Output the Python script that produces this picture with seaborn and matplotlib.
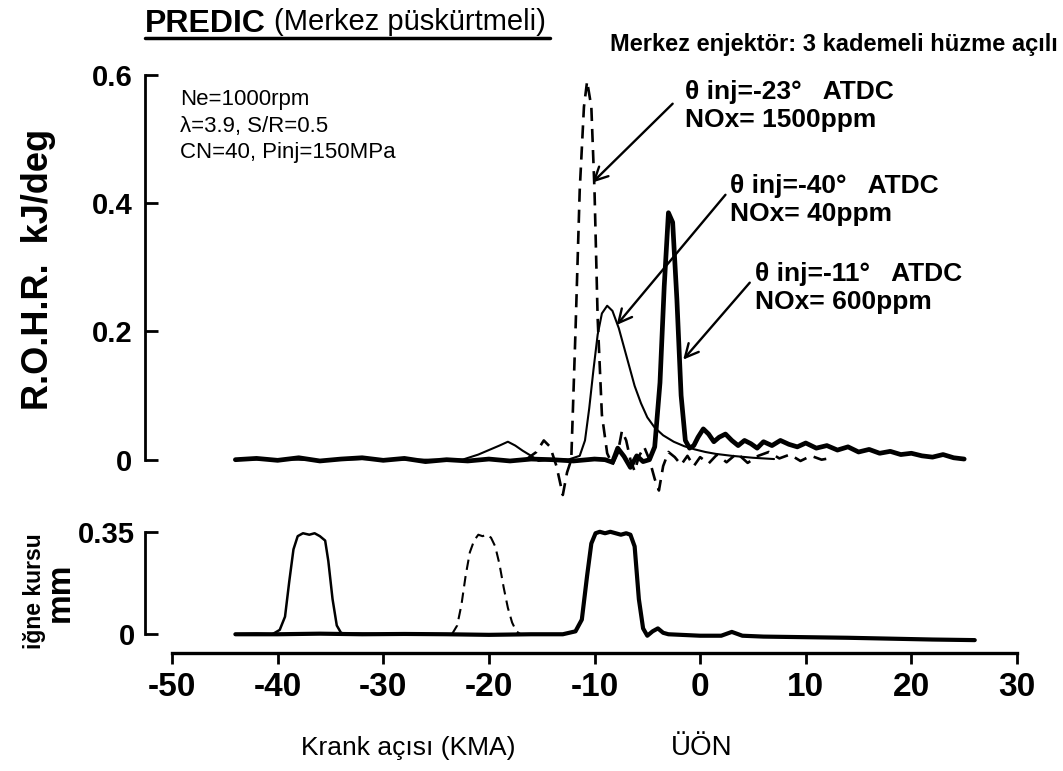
import matplotlib
matplotlib.use("Agg")
import matplotlib.pyplot as plt
from matplotlib.lines import Line2D
import seaborn as sns
import pandas as pd

# ---------------- data ----------------
# Rate of heat release, kJ/deg, vs crank angle (deg ATDC)
late_x = [-44, -42, -40, -38, -36, -34, -32, -30, -28, -26, -24, -22, -20, -18, -16, -14, -12, -10, -9,
          -8.3, -7.8, -7.2, -6.6, -6.0, -5.4, -4.8, -4.3, -3.8, -3.4, -3.0, -2.6, -2.2, -1.8, -1.4, -1.0,
          -0.6, -0.2, 0.3, 0.8, 1.3, 1.8, 2.4, 3.0, 3.6, 4.2, 4.8, 5.4, 6.0, 6.8, 7.6, 8.4, 9.2, 10, 11,
          12, 13, 14, 15, 16, 17, 18, 19, 20, 21, 22, 23, 24, 25]
late_y = [0.000, 0.002, -0.001, 0.003, -0.002, 0.001, 0.003, -0.001, 0.002, -0.003, 0.000, -0.002, 0.001,
          -0.002, 0.001, 0.000, -0.002, 0.001, 0.000, -0.004, 0.018, 0.005, -0.012, 0.006, -0.003, 0.000,
          0.020, 0.120, 0.270, 0.385, 0.370, 0.250, 0.100, 0.030, 0.018, 0.022, 0.035, 0.048, 0.040, 0.028,
          0.035, 0.040, 0.030, 0.022, 0.030, 0.025, 0.018, 0.028, 0.022, 0.030, 0.024, 0.020, 0.026, 0.018,
          0.022, 0.015, 0.020, 0.012, 0.016, 0.010, 0.013, 0.008, 0.010, 0.006, 0.004, 0.008, 0.003, 0.001]

early_x = [-44, -40, -36, -32, -28, -24, -22.5, -21, -20, -19, -18.2, -17.5, -16.8, -16, -15.3, -14.5,
           -13.5, -12.5, -11.4, -10.9, -10.5, -10.1, -9.7, -9.3, -8.8, -8.3, -7.7, -7.2, -6.7, -6.2, -5.6,
           -5.0, -4.3, -3.5, -2.5, -1.5, -0.5, 0.5, 1.5, 3, 5, 7]
early_y = [0.000, 0.001, -0.001, 0.001, 0.000, 0.000, 0.000, 0.008, 0.015, 0.022, 0.028, 0.022, 0.014,
           0.006, -0.002, 0.000, 0.001, 0.000, 0.006, 0.030, 0.080, 0.140, 0.195, 0.228, 0.240, 0.232,
           0.205, 0.175, 0.145, 0.115, 0.088, 0.066, 0.050, 0.038, 0.028, 0.021, 0.016, 0.012, 0.009,
           0.006, 0.003, 0.001]

mid_x = [-16.5, -15.5, -14.8, -14.2, -13.6, -13.0, -12.6, -12.2, -11.8, -11.4, -11.0, -10.7, -10.3, -10.0,
         -9.7, -9.3, -8.8, -8.3, -7.8, -7.4, -7.0, -6.6, -6.2, -5.8, -5.3, -4.8, -4.3, -3.9, -3.5, -3.0,
         -2.4, -1.8, -1.2, -0.6, 0.0, 0.8, 1.6, 2.5, 3.5, 4.5, 5.5, 6.5, 7.5, 8.5, 9.5, 10.5, 11.5, 12.5]
mid_y = [0.000, 0.012, 0.030, 0.020, -0.010, -0.055, -0.020, 0.000, 0.200, 0.420, 0.550, 0.590, 0.550,
         0.420, 0.220, 0.070, 0.010, -0.008, 0.010, 0.045, 0.030, 0.000, -0.018, 0.005, 0.020, 0.000,
         -0.030, -0.048, -0.010, 0.012, 0.004, -0.008, 0.006, -0.010, 0.004, -0.006, 0.008, -0.004, 0.010,
         -0.005, 0.006, 0.012, 0.002, 0.008, -0.002, 0.006, 0.000, 0.003]

# Needle lift, mm
lift_late_x = [-44, -40, -36, -32, -28, -24, -20, -16, -13, -11.8, -11.2, -10.7, -10.3, -9.9, -9.5, -9.0,
               -8.5, -8.0, -7.5, -7.0, -6.6, -6.2, -5.8, -5.4, -5.0, -4.5, -4.0, -3.5, -3.0, 0, 2.0, 3.0,
               4.0, 6, 10, 14, 18, 22, 26]
lift_late_y = [0.000, 0.000, 0.002, 0.000, 0.001, 0.000, -0.002, 0.000, 0.000, 0.010, 0.050, 0.200, 0.310,
               0.345, 0.350, 0.345, 0.350, 0.345, 0.340, 0.345, 0.340, 0.300, 0.120, 0.020, -0.005, 0.010,
               0.020, 0.005, 0.000, -0.005, -0.005, 0.008, -0.005, -0.008, -0.010, -0.012, -0.015, -0.018,
               -0.020]

lift_early_x = [-44, -42, -40.5, -39.8, -39.3, -38.9, -38.5, -38.1, -37.6, -37.0, -36.5, -36.0, -35.5,
                -35.2, -34.8, -34.4, -34.0, -33.5, -32.5, -30]
lift_early_y = [0.000, 0.002, 0.000, 0.015, 0.060, 0.180, 0.290, 0.335, 0.345, 0.340, 0.345, 0.335, 0.320,
                0.250, 0.120, 0.030, 0.005, 0.000, 0.002, 0.000]

lift_mid_x = [-23.5, -23.0, -22.6, -22.2, -21.8, -21.4, -21.0, -20.6, -20.2, -19.8, -19.4, -19.0, -18.6,
              -18.2, -17.8, -17.4, -17.0, -16.5]
lift_mid_y = [0.000, 0.030, 0.100, 0.200, 0.280, 0.320, 0.340, 0.335, 0.340, 0.330, 0.300, 0.240, 0.160,
              0.090, 0.040, 0.010, 0.000, 0.000]

x_ticks = [-50, -40, -30, -20, -10, 0, 10, 20, 30]
x_ticklabels = ["-50", "-40", "-30", "-20", "-10", "0", "10", "20", "30"]
rohr_ticks = [0, 0.2, 0.4, 0.6]
rohr_ticklabels = ["0", "0.2", "0.4", "0.6"]
lift_ticks = [0, 0.35]
lift_ticklabels = ["0", "0.35"]

# ---------------- style ----------------
sns.set_style("white")
plt.rcParams["font.family"] = ["Liberation Sans", "DejaVu Sans"]
for key in ("text.color", "axes.edgecolor", "xtick.color", "ytick.color", "axes.labelcolor"):
    plt.rcParams[key] = "black"

W, H = 1063, 771
fig = plt.figure(figsize=(W / 100, H / 100), dpi=100)

def fx(px):
    return px / W

def fy(py):
    return 1 - py / H

# axes placed so that x=-50 -> px 172, x=30 -> px 1017
ax_top = fig.add_axes([fx(172), fy(511), fx(1017) - fx(172), fy(62) - fy(511)])
ax_bot = fig.add_axes([fx(172), fy(653), fx(1017) - fx(172), fy(523) - fy(653)])

for ax in (ax_top, ax_bot):
    ax.set_xlim(-50, 30)
    ax.set_facecolor("none")

ax_top.set_ylim(-0.08, 0.62)
ax_bot.set_ylim(-0.064, 0.38)

# ---------------- top: rate of heat release ----------------
df_late = pd.DataFrame({"x": late_x, "y": late_y})
df_early = pd.DataFrame({"x": early_x, "y": early_y})
df_mid = pd.DataFrame({"x": mid_x, "y": mid_y})

sns.lineplot(data=df_early, x="x", y="y", ax=ax_top, color="black", linewidth=1.5, sort=False)
sns.lineplot(data=df_mid, x="x", y="y", ax=ax_top, color="black", linewidth=1.9, sort=False,
             linestyle=(0, (5, 3)))
sns.lineplot(data=df_late, x="x", y="y", ax=ax_top, color="black", linewidth=3.4, sort=False)

# ---------------- bottom: needle lift ----------------
df_ll = pd.DataFrame({"x": lift_late_x, "y": lift_late_y})
df_le = pd.DataFrame({"x": lift_early_x, "y": lift_early_y})
df_lm = pd.DataFrame({"x": lift_mid_x, "y": lift_mid_y})

sns.lineplot(data=df_le, x="x", y="y", ax=ax_bot, color="black", linewidth=1.8, sort=False)
sns.lineplot(data=df_lm, x="x", y="y", ax=ax_bot, color="black", linewidth=1.5, sort=False,
             linestyle=(0, (5, 3)))
sns.lineplot(data=df_ll, x="x", y="y", ax=ax_bot, color="black", linewidth=3.0, sort=False)

# ---------------- axes cosmetics ----------------
for ax in (ax_top, ax_bot):
    ax.set_xlabel("")
    ax.set_ylabel("")
    ax.spines["top"].set_visible(False)
    ax.spines["right"].set_visible(False)
    ax.spines["left"].set_position(("outward", 19.5))
    ax.spines["left"].set_linewidth(2.0)
    ax.spines["left"].set_color("black")

ax_top.spines["bottom"].set_visible(False)
ax_top.tick_params(axis="x", which="both", bottom=False, labelbottom=False)
ax_top.spines["left"].set_bounds(0, 0.6)
ax_top.set_yticks(rohr_ticks)
ax_top.set_yticklabels(rohr_ticklabels)
ax_top.tick_params(axis="y", left=True, direction="in", length=9, width=2.0, pad=9, labelsize=21,
                   colors="black")
for t in ax_top.get_yticklabels():
    t.set_fontweight("bold")

ax_bot.spines["left"].set_bounds(0, 0.35)
ax_bot.set_yticks(lift_ticks)
ax_bot.set_yticklabels(lift_ticklabels)
ax_bot.tick_params(axis="y", left=True, direction="in", length=9, width=2.0, pad=7, labelsize=21,
                   colors="black")
ax_bot.spines["bottom"].set_bounds(-50, 30)
ax_bot.spines["bottom"].set_linewidth(2.4)
ax_bot.spines["bottom"].set_color("black")
ax_bot.set_xticks(x_ticks)
ax_bot.set_xticklabels(x_ticklabels)
ax_bot.tick_params(axis="x", bottom=True, direction="out", length=8, width=2.0, pad=6, labelsize=24,
                   colors="black")
for t in ax_bot.get_yticklabels() + ax_bot.get_xticklabels():
    t.set_fontweight("bold")

# ---------------- annotations ----------------
ann_font = dict(fontsize=19, fontweight="bold", color="black", va="top", ha="left", linespacing=1.2)
arrow = dict(arrowstyle="->", color="black", lw=1.7, mutation_scale=24, shrinkA=0, shrinkB=0)

ax_top.annotate("", xy=(-10.2, 0.432), xytext=(-2.6, 0.555), arrowprops=arrow)
ax_top.text(-1.4, 0.592, "θ inj=-23°   ATDC\nNOx= 1500ppm", **ann_font)

ax_top.annotate("", xy=(-7.9, 0.21), xytext=(2.4, 0.413), arrowprops=arrow)
ax_top.text(2.8, 0.445, "θ inj=-40°   ATDC\nNOx= 40ppm", **ann_font)

ax_top.annotate("", xy=(-1.6, 0.156), xytext=(4.7, 0.276), arrowprops=arrow)
ax_top.text(5.2, 0.308, "θ inj=-11°   ATDC\nNOx= 600ppm", **ann_font)

ax_top.text(-49.2, 0.578, "Ne=1000rpm\nλ=3.9, S/R=0.5\nCN=40, Pinj=150MPa",
            fontsize=16, color="black", va="top", ha="left", linespacing=1.35)

# ---------------- figure texts ----------------
fig.text(fx(145), fy(24), "PREDIC", fontsize=23, fontweight="bold", ha="left", va="center")
fig.text(fx(274), fy(22), "(Merkez püskürtmeli)", fontsize=21, ha="left", va="center")
fig.add_artist(Line2D([fx(145), fx(550)], [fy(38), fy(38)], color="black", lw=2.5,
                      transform=fig.transFigure))
fig.text(fx(1058), fy(45), "Merkez enjektör: 3 kademeli hüzme açılı", fontsize=17,
         fontweight="bold", ha="right", va="center")

fig.text(fx(39), fy(269), "R.O.H.R.  kJ/deg", fontsize=26, fontweight="bold", rotation=90,
         ha="center", va="center")
fig.text(fx(60), fy(592), "mm", fontsize=24, fontweight="bold", rotation=90, ha="center", va="center")
fig.text(fx(34), fy(591), "iğne kursu", fontsize=16.5, fontweight="bold", rotation=90, ha="center",
         va="center")

fig.text(fx(408), fy(748), "Krank açısı (KMA)", fontsize=19, ha="center", va="center")
fig.text(fx(702), fy(748), "ÜÖN", fontsize=20, ha="center", va="center")

fig.savefig("out.png", dpi=100, facecolor="white")
